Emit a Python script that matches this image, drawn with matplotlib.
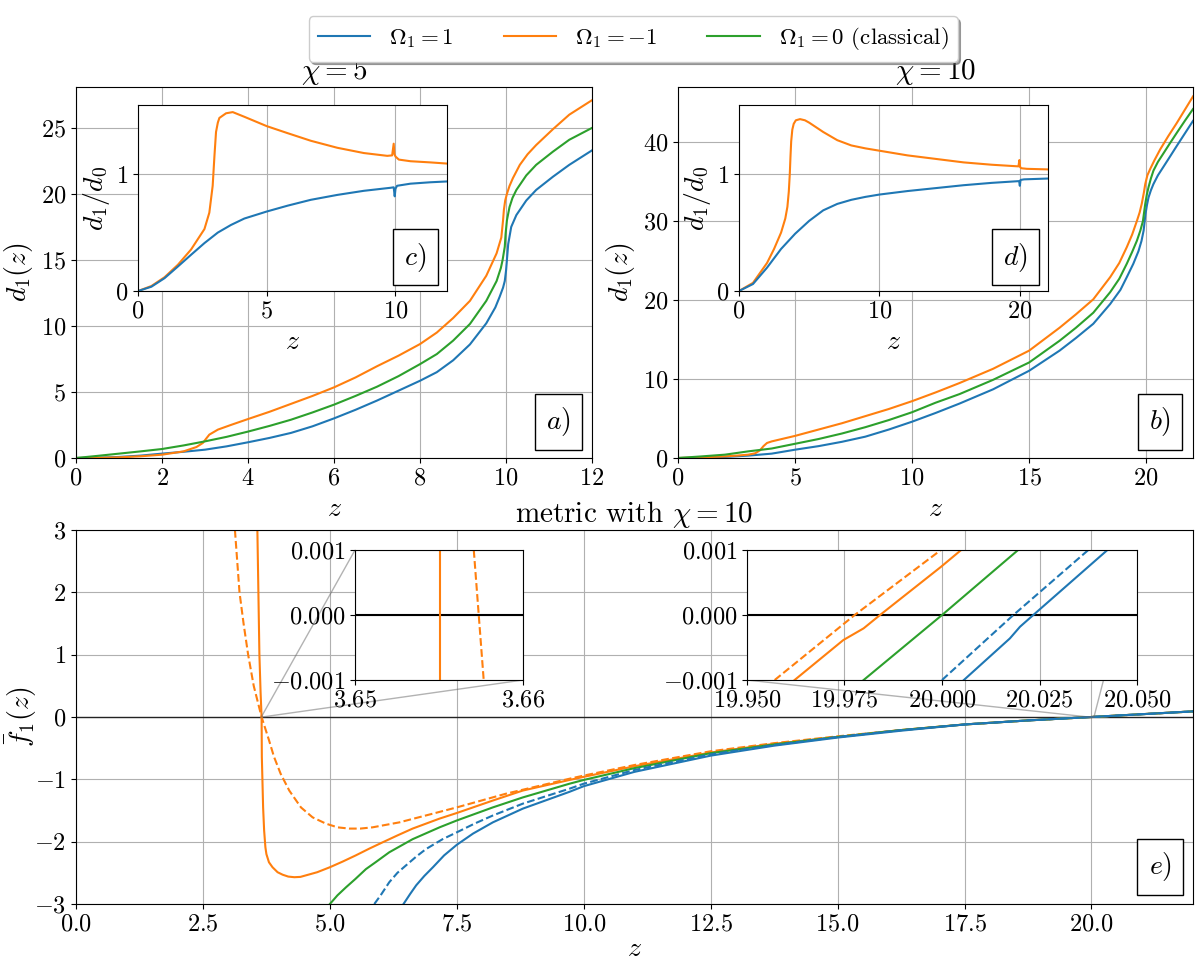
import matplotlib
matplotlib.use('Agg')
import matplotlib.pyplot as plt
from matplotlib.ticker import FuncFormatter

plt.rcParams['mathtext.fontset'] = 'cm'
plt.rcParams['font.family'] = 'serif'
plt.rcParams['font.serif'] = ['cmr10']
plt.rcParams['axes.formatter.use_mathtext'] = True

# ---- panel a (chi = 5) ----
za_blue = [0, 0.5, 1, 1.5, 2, 2.5, 3, 3.5, 4, 4.5, 5, 5.5, 6, 6.5, 7, 7.5, 8, 8.39, 8.77, 9.16, 9.54, 9.75, 9.85, 9.93,
           9.97, 10.0, 10.02, 10.05, 10.12, 10.24, 10.47, 10.70, 11.09, 11.47, 12]
da_blue = [0, 0.02, 0.08, 0.18, 0.33, 0.47, 0.63, 0.88, 1.19, 1.52, 1.9, 2.4, 3.0, 3.65, 4.35, 5.1, 5.85, 6.5, 7.4, 8.6,
           10.2, 11.4, 12.2, 12.9, 13.4, 14.2, 15.0, 16.2, 17.5, 18.4, 19.5, 20.3, 21.3, 22.2, 23.3]
za_green = [0, 0.5, 1, 1.5, 2, 2.5, 3, 3.5, 4, 4.5, 5, 5.5, 6, 6.5, 7, 7.5, 8, 8.39, 8.77, 9.16, 9.54, 9.78, 9.88, 9.92,
            9.97, 9.99, 10.02, 10.08, 10.15, 10.24, 10.47, 10.70, 11.09, 11.47, 12]
da_green = [0, 0.16, 0.33, 0.5, 0.68, 0.95, 1.26, 1.6, 2.0, 2.43, 2.9, 3.45, 4.04, 4.7, 5.4, 6.2, 7.11, 7.87, 8.89, 10.15,
            11.9, 13.4, 14.4, 15.0, 16.0, 17.0, 18.0, 19.0, 19.7, 20.3, 21.4, 22.2, 23.2, 24.1, 25.0]
za_orange = [0, 0.5, 1, 1.5, 2, 2.5, 2.8, 2.95, 3.02, 3.1, 3.3, 3.6, 4, 4.5, 5, 5.5, 6, 6.5, 7, 7.5, 8, 8.39, 8.77,
             9.16, 9.54, 9.78, 9.89, 9.93, 9.95, 9.98, 10.02, 10.08, 10.16, 10.32, 10.5, 10.70, 11.09, 11.47, 12]
da_orange = [0, 0.01, 0.05, 0.13, 0.25, 0.5, 0.83, 1.14, 1.44, 1.77, 2.15, 2.5, 2.95, 3.5, 4.1, 4.7, 5.35, 6.1, 6.95,
             7.75, 8.63, 9.5, 10.6, 11.9, 13.8, 15.5, 16.7, 18.0, 18.8, 19.5, 20.0, 20.6, 21.2, 22.2, 23.0, 23.7, 24.9,
             26.0, 27.1]

# ---- panel b (chi = 10) ----
zb_blue = [0, 1, 2, 3, 4, 5, 6, 7, 8, 9, 10, 11, 12.03, 13.46, 15, 16.3, 17.0, 17.74, 18.46, 18.9, 19.17, 19.45,
           19.67, 19.8, 19.89, 19.97, 20.03, 20.1, 20.2, 20.31, 20.5, 20.74, 21.0, 21.3, 21.65, 22]
db_blue = [0, 0.03, 0.13, 0.3, 0.55, 1.05, 1.5, 2.05, 2.7, 3.6, 4.6, 5.7, 6.9, 8.7, 11.05, 13.6, 15.2, 17.0, 19.5,
           21.3, 22.9, 24.6, 26.2, 27.5, 28.8, 30.9, 32.0, 33.0, 33.9, 34.7, 35.8, 36.9, 38.1, 39.5, 41.1, 42.7]
zb_green = [0, 1, 2, 3, 4, 5, 6, 7, 8, 9, 10, 11, 12.03, 13.46, 15, 16.3, 17.0, 17.74, 18.46, 18.85, 19.17, 19.4,
            19.6, 19.75, 19.86, 19.96, 20.03, 20.1, 20.2, 20.31, 20.5, 20.74, 21.0, 21.31, 21.65, 22]
db_green = [0, 0.2, 0.42, 0.84, 1.2, 1.8, 2.4, 3.1, 3.9, 4.8, 5.8, 7.0, 8.1, 9.9, 12.1, 14.85, 16.5, 18.4, 21.0, 22.7,
            24.6, 26.1, 27.5, 28.8, 30.0, 32.2, 33.4, 34.3, 35.4, 36.4, 37.5, 38.6, 39.8, 41.2, 42.7, 44.2]
zb_orange = [0, 1, 2, 2.5, 3, 3.3, 3.5, 3.65, 3.8, 4, 4.5, 5, 6, 7, 8, 9, 10, 11, 12.03, 13.46, 15, 16.3, 17.0, 17.74,
             18.46, 18.85, 19.17, 19.4, 19.6, 19.72, 19.81, 19.9, 19.96, 20.05, 20.17, 20.35, 20.6, 20.95, 21.3,
             21.65, 22]
db_orange = [0, 0.07, 0.2, 0.3, 0.42, 0.6, 0.97, 1.5, 1.9, 2.1, 2.45, 2.8, 3.6, 4.4, 5.3, 6.2, 7.2, 8.3, 9.5, 11.3,
             13.6, 16.5, 18.2, 20.1, 22.9, 24.7, 26.7, 28.3, 30.0, 31.1, 32.2, 33.6, 34.7, 35.8, 36.6, 37.7, 39.1,
             40.8, 42.4, 44.1, 45.8]

# ---- inset c (d1/d0, chi = 5) ----
zc_orange = [0, 0.52, 1.03, 1.55, 2.06, 2.58, 2.77, 2.90, 2.97, 3.03, 3.10, 3.16, 3.42, 3.68, 4.13, 5.0, 5.81, 6.71,
             7.74, 8.77, 9.68, 9.87, 9.93, 9.96, 10.0, 10.13, 10.58, 11.35, 12]
rc_orange = [0, 0.043, 0.118, 0.225, 0.355, 0.53, 0.67, 0.90, 1.16, 1.36, 1.44, 1.48, 1.52, 1.53, 1.49, 1.41, 1.35,
             1.285, 1.225, 1.18, 1.156, 1.16, 1.26, 1.17, 1.15, 1.124, 1.11, 1.10, 1.09]
zc_blue = [0, 0.52, 1.03, 1.55, 2.06, 2.58, 3.10, 3.61, 4.13, 5.0, 5.81, 6.71, 7.74, 8.77, 9.81, 9.93, 9.97, 10.0,
           10.06, 10.58, 11.35, 12]
rc_blue = [0, 0.037, 0.11, 0.21, 0.31, 0.41, 0.50, 0.565, 0.62, 0.68, 0.73, 0.78, 0.822, 0.857, 0.883, 0.887, 0.81,
           0.875, 0.90, 0.918, 0.93, 0.937]

# ---- inset d (d1/d0, chi = 10) ----
zd_orange = [0, 1, 2, 2.5, 3, 3.3, 3.45, 3.55, 3.62, 3.67, 3.72, 3.8, 3.9, 4.05, 4.35, 4.7, 5, 5.5, 6, 7, 8, 9, 10,
             12, 14, 16, 18, 19.9, 19.97, 20.02, 20.1, 20.5, 22]
rd_orange = [0, 0.07, 0.24, 0.36, 0.5, 0.62, 0.72, 0.85, 1.0, 1.15, 1.28, 1.38, 1.43, 1.46, 1.47, 1.46, 1.44, 1.4,
             1.36, 1.29, 1.245, 1.22, 1.2, 1.16, 1.13, 1.1, 1.08, 1.066, 1.12, 1.06, 1.05, 1.045, 1.04]
zd_blue = [0, 1, 2, 3, 4, 5, 6, 7, 8, 9, 10, 12, 14, 16, 18, 19.95, 20, 20.05, 20.3, 22]
rd_blue = [0, 0.06, 0.2, 0.36, 0.49, 0.6, 0.69, 0.745, 0.78, 0.805, 0.825, 0.855, 0.88, 0.905, 0.925, 0.94, 0.9, 0.95,
           0.955, 0.962]

# ---- panel e (metric, chi = 10) ----
ze_orange = [3.572, 3.592, 3.612, 3.635, 3.655, 3.66, 3.685, 3.705, 3.73, 3.75, 3.80, 3.87, 3.97, 4.07, 4.18, 4.30,
             4.42, 4.53, 4.75, 5.0, 5.25, 5.51, 5.78, 6.04, 6.33, 6.63, 7.16, 7.5, 8.21, 8.8, 9.72, 10, 11, 12.5,
             13.75, 15, 16.25, 17.5, 18.75, 20, 21, 22]
fe_orange = [3.0, 2.0, 1.0, 0.4, 0.0, -0.64, -1.45, -1.82, -2.09, -2.2, -2.33, -2.41, -2.49, -2.53, -2.56, -2.57,
             -2.565, -2.54, -2.49, -2.41, -2.32, -2.22, -2.11, -2.01, -1.9, -1.79, -1.63, -1.54, -1.34, -1.18,
             -1.01, -0.96, -0.79, -0.57, -0.43, -0.32, -0.21, -0.12, -0.055, 0.0, 0.045, 0.09]
ze_orange_d = [3.13, 3.22, 3.30, 3.39, 3.50, 3.655, 3.8, 3.90, 4.03, 4.2, 4.43, 4.66, 4.92, 5.15, 5.38, 5.6, 5.84,
               6.37, 7.03, 7.5, 8.47, 9.72, 10, 11, 12.5, 13.75, 15, 16.25, 17.5, 18.75, 20, 21, 22]
fe_orange_d = [3.0, 2.0, 1.5, 1.0, 0.5, 0.0, -0.37, -0.64, -0.91, -1.18, -1.45, -1.61, -1.71, -1.77, -1.79, -1.79,
               -1.77, -1.69, -1.55, -1.45, -1.23, -0.99, -0.94, -0.77, -0.55, -0.42, -0.31, -0.21, -0.12, -0.055,
               0.0, 0.045, 0.09]
ze_green = [5.0, 5.15, 5.32, 5.5, 5.71, 5.9, 6.17, 6.63, 7.16, 7.5, 8.21, 8.8, 9.72, 10, 11, 12.5, 13.75, 15, 16.25,
            17.5, 18.75, 20, 21, 22]
fe_green = [-3.0, -2.86, -2.73, -2.6, -2.44, -2.33, -2.17, -1.96, -1.77, -1.66, -1.45, -1.29, -1.07, -1.01, -0.82,
            -0.58, -0.44, -0.32, -0.21, -0.12, -0.055, 0.0, 0.045, 0.09]
ze_blue_d = [5.875, 6.0, 6.17, 6.33, 6.5, 6.7, 6.89, 7.22, 7.5, 7.85, 8.21, 8.8, 9.72, 10, 11, 12.5, 13.75, 15, 16.25,
             17.5, 18.75, 20, 21, 22]
fe_blue_d = [-3.0, -2.86, -2.65, -2.5, -2.38, -2.24, -2.12, -1.96, -1.85, -1.71, -1.58, -1.39, -1.15, -1.07, -0.85,
             -0.6, -0.45, -0.32, -0.21, -0.12, -0.055, 0.0, 0.045, 0.09]
ze_blue = [6.45, 6.58, 6.70, 6.86, 7.03, 7.25, 7.5, 7.82, 8.21, 8.8, 9.72, 10, 11, 12.5, 13.75, 15, 16.25, 17.5, 18.75,
           20, 21, 22]
fe_blue = [-3.0, -2.84, -2.7, -2.55, -2.41, -2.22, -2.05, -1.87, -1.69, -1.47, -1.2, -1.11, -0.88, -0.62, -0.46, -0.33,
           -0.22, -0.12, -0.055, 0.0, 0.045, 0.09]

# zoom near z = 3.655
zl_orange = [3.65505, 3.65505]
fl_orange = [-0.0012, 0.0012]
zl_orange_d = [3.65707, 3.65766]
fl_orange_d = [0.001, -0.001]

# zoom near z = 20
zr_orange_d = [19.9571, 19.9776, 19.9997]
fr_orange_d = [-0.001, 0.0, 0.001]
zr_orange = [19.9622, 19.9747, 19.9799, 19.9841, 19.9997, 20.0049]
fr_orange = [-0.001, -0.000385, -0.000205, 0.0, 0.00074, 0.001]
zr_green = [19.9799, 20.0, 20.0195]
fr_green = [-0.001, 0.0, 0.001]
zr_blue_d = [20.0, 20.0183, 20.0375]
fr_blue_d = [-0.001, 0.0, 0.001]
zr_blue = [20.0056, 20.0174, 20.02, 20.0234, 20.0424]
fr_blue = [-0.001, -0.00036, -0.00018, 0.0, 0.001]

labels = [r'$\Omega_1 = 1$', r'$\Omega_1 = -1$', r'$\Omega_1 = 0$ (classical)']

TICK = 17.5
LAB = 20
TITLE = 21
BOX = dict(boxstyle='square,pad=0.4', fc='white', ec='black')


def tag(ax, txt, x, y):
    ax.text(x, y, txt, transform=ax.transAxes, ha='center', va='center',
            fontsize=LAB, bbox=BOX, zorder=10)


def fmt(digits):
    return FuncFormatter(lambda v, p: r'$\mathdefault{%s}$' % (('%.' + str(digits) + 'f') % v).replace('-', '\u2212'))


fig = plt.figure(figsize=(11.99, 9.65), dpi=100)

ax_a = fig.add_axes([0.0634, 0.5254, 0.4304, 0.3845])
ax_b = fig.add_axes([0.5655, 0.5254, 0.4295, 0.3845])
ax_e = fig.add_axes([0.0634, 0.0632, 0.9316, 0.3876])
ins_c = fig.add_axes([0.1151, 0.6984, 0.2577, 0.1927])
ins_d = fig.add_axes([0.6163, 0.6984, 0.2577, 0.1927])
ins_l = fig.add_axes([0.2961, 0.2953, 0.1401, 0.1347])
ins_r = fig.add_axes([0.6230, 0.2953, 0.3253, 0.1347])

# top panels
h1, = ax_a.plot(za_blue, da_blue, color='C0', lw=1.5)
h2, = ax_a.plot(za_orange, da_orange, color='C1', lw=1.5)
h3, = ax_a.plot(za_green, da_green, color='C2', lw=1.5)
ax_a.set_xlim(0, 12)
ax_a.set_ylim(0, 28.1)
ax_a.set_title(r'$\chi = 5$', fontsize=TITLE)
tag(ax_a, '$a)$', 0.935, 0.097)

ax_b.plot(zb_blue, db_blue, color='C0', lw=1.5)
ax_b.plot(zb_orange, db_orange, color='C1', lw=1.5)
ax_b.plot(zb_green, db_green, color='C2', lw=1.5)
ax_b.set_xlim(0, 22)
ax_b.set_ylim(0, 47)
ax_b.set_title(r'$\chi = 10$', fontsize=TITLE)
tag(ax_b, '$b)$', 0.936, 0.097)

for ax in (ax_a, ax_b):
    ax.set_xlabel('$z$', fontsize=LAB)
    ax.set_ylabel('$d_1(z)$', fontsize=LAB, labelpad=4)

# insets with the ratio
ins_c.plot(zc_orange, rc_orange, color='C1', lw=1.5)
ins_c.plot(zc_blue, rc_blue, color='C0', lw=1.5)
ins_c.set_xlim(0, 12)
ins_c.set_xticks([0, 5, 10])
tag(ins_c, '$c)$', 0.898, 0.183)

ins_d.plot(zd_orange, rd_orange, color='C1', lw=1.5)
ins_d.plot(zd_blue, rd_blue, color='C0', lw=1.5)
ins_d.set_xlim(0, 22)
ins_d.set_xticks([0, 10, 20])
tag(ins_d, '$d)$', 0.895, 0.183)

for ax in (ins_c, ins_d):
    ax.set_ylim(0, 1.59)
    ax.set_yticks([0, 1])
    ax.set_xlabel('$z$', fontsize=LAB)
    ax.set_ylabel('$d_1/d_0$', fontsize=LAB, labelpad=2)

# metric panel
ax_e.axhline(0, color='k', lw=1, alpha=0.8)
ax_e.plot(ze_orange, fe_orange, color='C1', lw=1.5)
ax_e.plot(ze_orange_d, fe_orange_d, color='C1', lw=1.5, ls='--')
ax_e.plot(ze_green, fe_green, color='C2', lw=1.5)
ax_e.plot(ze_blue_d, fe_blue_d, color='C0', lw=1.5, ls='--')
ax_e.plot(ze_blue, fe_blue, color='C0', lw=1.5)
ax_e.set_xlim(0, 22)
ax_e.set_ylim(-3, 3)
ax_e.set_xlabel('$z$', fontsize=LAB, labelpad=0)
ax_e.set_ylabel(r'$\bar{f}_1(z)$', fontsize=LAB)
ax_e.yaxis.set_label_coords(-0.033, 0.5)
ax_e.set_title(r'metric with $\chi = 10$', fontsize=TITLE)
tag(ax_e, '$e)$', 0.9705, 0.099)

ins_l.axhline(0, color='k', lw=1.5)
ins_l.plot(zl_orange, fl_orange, color='C1', lw=1.5)
ins_l.plot(zl_orange_d, fl_orange_d, color='C1', lw=1.5, ls='--')
ins_l.set_xlim(3.65, 3.66)
ins_l.set_xticks([3.65, 3.66])
ins_l.xaxis.set_major_formatter(fmt(2))

ins_r.axhline(0, color='k', lw=1.5)
ins_r.plot(zr_orange_d, fr_orange_d, color='C1', lw=1.5, ls='--')
ins_r.plot(zr_orange, fr_orange, color='C1', lw=1.5)
ins_r.plot(zr_green, fr_green, color='C2', lw=1.5)
ins_r.plot(zr_blue_d, fr_blue_d, color='C0', lw=1.5, ls='--')
ins_r.plot(zr_blue, fr_blue, color='C0', lw=1.5)
ins_r.set_xlim(19.95, 20.05)
ins_r.set_xticks([19.95, 19.975, 20.0, 20.025, 20.05])
ins_r.xaxis.set_major_formatter(fmt(3))

for ax in (ins_l, ins_r):
    ax.set_ylim(-0.001, 0.001)
    ax.set_yticks([-0.001, 0.0, 0.001])
    ax.yaxis.set_major_formatter(fmt(3))
    ax_e.indicate_inset_zoom(ax, edgecolor='0.4')

for ax in (ax_a, ax_b, ax_e, ins_c, ins_d, ins_l, ins_r):
    ax.grid(True)
    ax.tick_params(labelsize=TICK)

fig.legend([h1, h2, h3], labels, loc='upper center', bbox_to_anchor=(0.528, 0.995),
           ncol=3, shadow=True, fontsize=16.5, handlelength=2.3, columnspacing=2.2)

fig.savefig('out.png', dpi=100)
